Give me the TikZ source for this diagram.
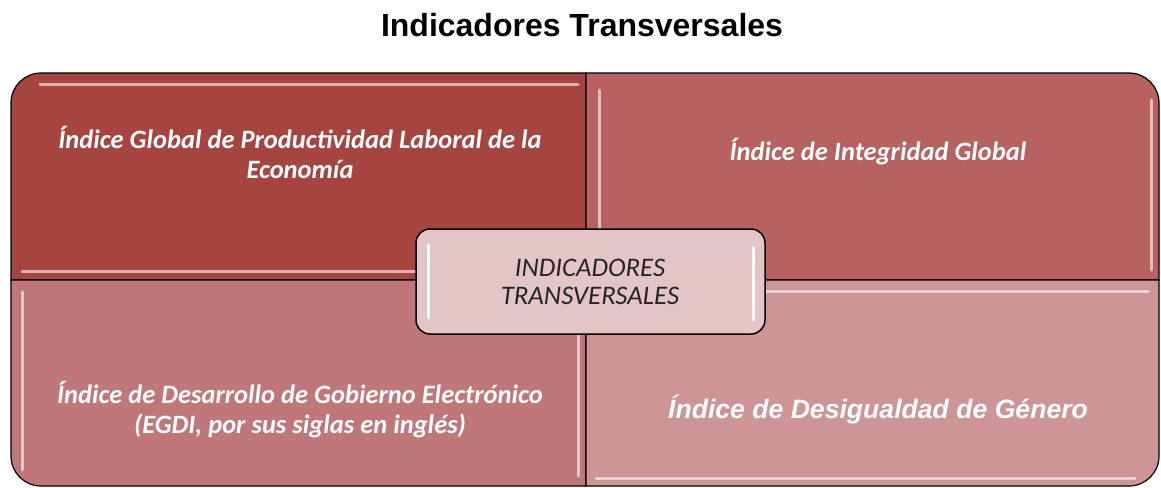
\documentclass[tikz,border=0pt]{standalone}
\usepackage{fontspec}
\setmainfont{Liberation Sans}
\newfontfamily\carlito{Carlito}
\definecolor{qtl}{HTML}{A6443F}
\definecolor{qtr}{HTML}{B76160}
\definecolor{qbl}{HTML}{C0777A}
\definecolor{qbr}{HTML}{CE9597}
\definecolor{qc}{HTML}{E3C5C8}
\definecolor{ctext}{HTML}{262626}
\tikzset{
  quad/.style={draw=black, line width=1.2pt},
  shine/.style={draw=white, line width=3pt, line cap=round, opacity=0.6},
  qtext/.style={text=white, font=\carlito\bfseries\itshape\fontsize{26.5}{30}\selectfont, align=center},
}
\begin{document}
\begin{tikzpicture}[x=1pt,y=-1pt]
\useasboundingbox (0,0) rectangle (1161,487);
\fill[white] (0,0) rectangle (1161,487);
\node[font=\bfseries\fontsize{32}{38}\selectfont] (title) at (582,25) {Indicadores Transversales};
% quadrants
\path[quad, fill=qtl] (586,280) -- (11,280) -- (11,103) arc[start angle=180,end angle=270,radius=30] -- (586,73) -- cycle;
\path[quad, fill=qtr] (586,280) -- (586,73) -- (1129,73) arc[start angle=270,end angle=360,radius=30] -- (1159,280) -- cycle;
\path[quad, fill=qbl] (586,280) -- (11,280) -- (11,456) arc[start angle=180,end angle=90,radius=30] -- (586,486) -- cycle;
\path[quad, fill=qbr] (586,280) -- (1159,280) -- (1159,456) arc[start angle=0,end angle=90,radius=30] -- (586,486) -- cycle;
% highlights
\draw[shine] (40,84) -- (578,84);
\draw[shine] (22,271) -- (578,271);
\draw[shine] (599,90) -- (599,270);
\draw[shine] (1151,100) -- (1151,270);
\draw[shine] (22,292) -- (22,470);
\draw[shine] (578,292) -- (578,476);
\draw[shine] (600,291) -- (1148,291);
\draw[shine] (596,478) -- (1135,478);
% texts
\node[qtext] (tl) at (300,152) {Índice Global de Productividad Laboral de la\\Economía};
\node[qtext] (tr) at (878,152) {Índice de Integridad Global};
\node[qtext] (bl) at (300,410) {Índice de Desarrollo de Gobierno Electrónico\\(EGDI, por sus siglas en inglés)};
\node[text=white, font=\bfseries\itshape\fontsize{26.6}{30}\selectfont] (br) at (878,410) {Índice de Desigualdad de Género};
% center
\draw[line width=1.5pt, fill=qc, rounded corners=14pt] (416,229) rectangle (765,334);
\draw[shine, opacity=0.9] (428,245) -- (428,318);
\draw[shine, opacity=0.9] (753,247) -- (753,320);
\node[text=ctext, font=\carlito\itshape\fontsize{26.8}{28}\selectfont, align=center] (c) at (590,282) {INDICADORES\\TRANSVERSALES};
\end{tikzpicture}
\end{document}
